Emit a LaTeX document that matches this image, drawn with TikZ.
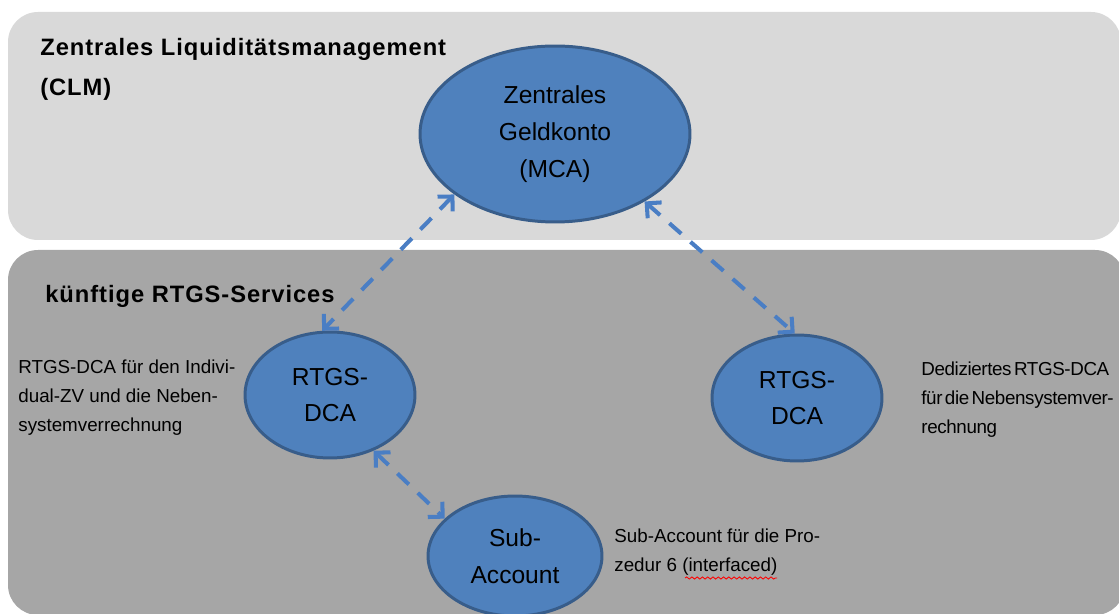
\documentclass[tikz,border=0pt]{standalone}
\usepackage{fontspec}
\setmainfont{Liberation Sans}
\newfontfamily\tightfamily[LetterSpace=-2,WordSpace=0.5]{Liberation Sans}
\usepackage{xcolor}
\usetikzlibrary{shapes.geometric,arrows.meta,decorations.pathmorphing}

\definecolor{clmgray}{HTML}{D9D9D9}
\definecolor{rtgsgray}{HTML}{A6A6A6}
\definecolor{accfill}{HTML}{4F81BD}
\definecolor{accline}{HTML}{385D8A}
\definecolor{linkblue}{HTML}{4A7EC4}

\newcommand{\areafont}{\fontsize{13.5}{23}\selectfont\bfseries\addfontfeature{LetterSpace=4}}
\newcommand{\accfont}{\fontsize{14}{21}\selectfont}
\newcommand{\notefont}{\fontsize{10.7}{16.4}\selectfont}

\begin{document}
\begin{tikzpicture}[x=0.02cm,y=-0.02cm,
  account/.style={ellipse, draw=accline, line width=1.7pt, fill=accfill, inner sep=0pt, align=center, font=\accfont},
  note/.style={anchor=north west, inner sep=0pt, align=left, font=\notefont},
  area/.style={anchor=north west, inner sep=0pt, align=left, font=\areafont},
  link/.style={linkblue, line width=2.3pt, dash pattern=on 9pt off 7pt, >={Straight Barb[length=6pt,width=12pt]}, <->}]
\useasboundingbox (0,0) rectangle (1119,614);
\clip (0,0) rectangle (1119,614);

% Panels
\fill[clmgray, rounded corners=0.6cm] (8,12) rectangle (1121,240);
\fill[rtgsgray, rounded corners=0.6cm] (8,250) rectangle (1125,615);

% Panel titles
\node[area] (clm) at (40,38) {Zentrales Liquiditätsmanagement\\(CLM)};
\node[area] (rtgs) at (45,285) {künftige RTGS-Services};

% Accounts
\node[account, minimum width=5.4cm, minimum height=3.52cm] (mca) at (555,134) {Zentrales\\Geldkonto\\(MCA)};
\node[account, minimum width=3.4cm, minimum height=2.52cm] (dcal) at (330,395) {RTGS-\\DCA};
\node[account, minimum width=3.4cm, minimum height=2.52cm] (dcar) at (797,398) {RTGS-\\DCA};
\node[account, minimum width=3.48cm, minimum height=2.4cm] (sub) at (515,556) {Sub-\\Account};

% Notes
\node[note] (dcalnote) at (18,360) {RTGS-DCA für den Indivi-\\dual-ZV und die Neben-\\systemverrechnung};
\node[note, font=\notefont\tightfamily] (dcarnote) at (921,362) {Dediziertes RTGS-DCA\\für die Nebensystemver-\\rechnung};
\node[note] (subnote) at (614,529) {Sub-Account für die Pro-\\zedur 6 (interfaced)};
\draw[red, line width=0.5pt, decorate, decoration={snake, amplitude=0.6pt, segment length=3pt}] (685,578) -- (777,578);

% Links
\draw[link] (mca.211) -- (dcal.97);
\draw[link] (mca.323) -- (dcar.92);
\draw[link] (dcal.308) -- (sub.152);
\end{tikzpicture}
\end{document}
